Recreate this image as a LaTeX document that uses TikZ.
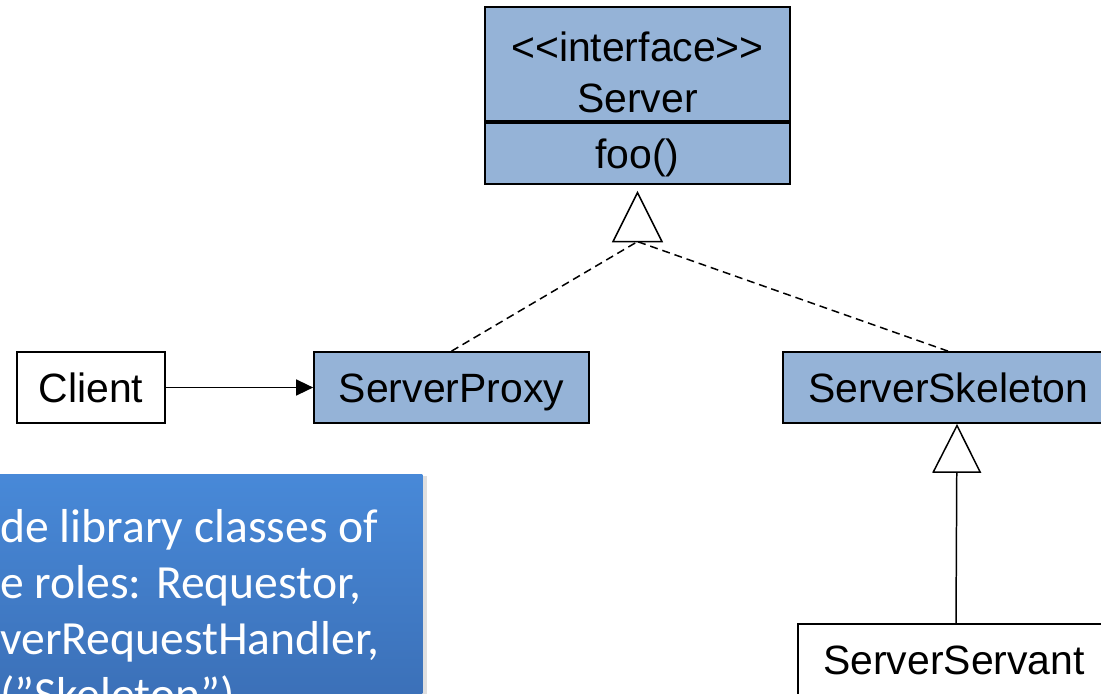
\documentclass[tikz,border=0pt]{standalone}
\usepackage{fontspec}
\setmainfont{Liberation Sans}
\newfontfamily\notefont{Carlito}
\usetikzlibrary{arrows.meta,positioning,calc,shadows}
\definecolor{clsblue}{RGB}{149,179,215}
\definecolor{notetop}{RGB}{72,137,216}
\definecolor{notebot}{RGB}{56,106,176}

\tikzset{
  umlbox/.style={draw, line width=1pt, inner sep=0pt,
    font=\fontsize{23.3pt}{29pt}\selectfont, align=center},
  cls/.style={umlbox, minimum height=1.42cm, text height=17pt, text depth=0pt},
  iface/.style={cls, fill=clsblue},
  conn/.style={line width=0.85pt},
  realize/.style={conn, dash pattern=on 4.5pt off 2.8pt},
  note/.style={top color=notetop, bottom color=notebot, text=white,
    drop shadow={shadow xshift=0.1cm, shadow yshift=-0.03cm, opacity=0.25},
    font=\notefont\fontsize{27.1pt}{31.9pt}\selectfont}
}

\begin{document}
\begin{tikzpicture}[x=0.02cm,y=-0.02cm]
            \useasboundingbox (0,0) rectangle (1101,693);
            \clip (0,0) rectangle (1101,693);
            % the interface
            \node[umlbox, fill=clsblue, minimum width=6.1cm, minimum height=2.28cm, text height=1.94cm, text depth=0pt] (serverhead) at (637.5,64) {{<}{<}interface{>}{>}\\Server};
            \node[iface, minimum width=6.1cm, minimum height=1.22cm, anchor=north] (serverops) at (serverhead.south) {foo()};
            % classes
            \node[cls, minimum width=2.96cm] (client) at (91,387.5) {Client};
            \node[iface, minimum width=5.5cm] (proxy) at (451.5,387.5) {ServerProxy};
            \node[iface, minimum width=6.6cm] (skel) at (948,387.5) {ServerSkeleton};
            \node[cls, minimum width=6.24cm] (servant) at (954,659.5) {ServerServant};
            % realization
            \coordinate (realtip) at ($(serverops.south)+(0,8)$);
            \coordinate (realbase) at ($(realtip)+(0,49)$);
            \draw[realize] (proxy.north) -- (realbase);
            \draw[realize] (skel.north) -- (realbase);
            \draw[conn, fill=white] (realtip) -- ++(-24.5,49) -- ++(49,0) -- cycle;
            % association and generalization
            \draw[conn, -{Triangle[length=0.34cm,width=0.32cm]}] (client) -- (proxy);
            \draw[conn, -{Triangle[open,length=0.98cm,width=0.98cm]}] ([xshift=0.04cm]servant.north) -- ([xshift=0.18cm]skel.south);
            % note
            \node[note, anchor=north west, text width=7.84cm, inner xsep=0.6cm, inner ysep=0.7cm, align=flush left] (broker) at (-30,474)
              {de library classes of\\e roles: Requestor,\\verRequestHandler,\\(”Skeleton”)};
\end{tikzpicture}
\end{document}
